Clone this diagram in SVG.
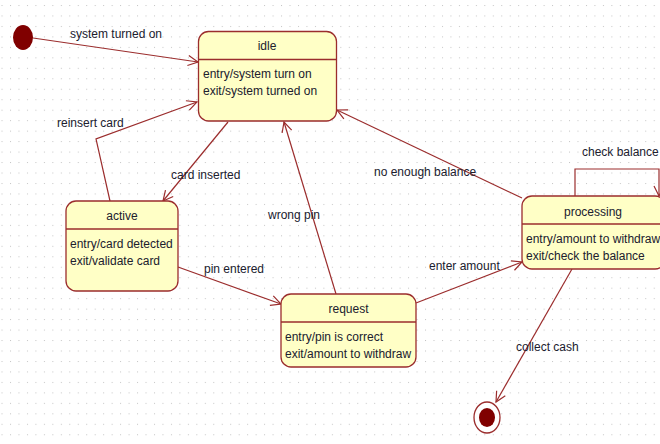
<svg xmlns="http://www.w3.org/2000/svg" width="660" height="444" viewBox="0 0 660 444">
<style>
.box{fill:#ffffc6;stroke:#9b2d2d;stroke-width:1.3}
.div{stroke:#9b2d2d;stroke-width:1.3}
.t{font-family:"Liberation Sans",Arial,sans-serif;font-size:12px;fill:#20202e}
.c{text-anchor:middle}
.e{fill:none;stroke:#9b2d2d;stroke-width:1.2}
</style>
<defs>
<pattern id="grid" patternUnits="userSpaceOnUse" x="10" y="5" width="8.47" height="10.47">
<rect x="0" y="0" width="1" height="1" fill="#c4c4c4"/>
</pattern>
<marker id="arr" markerUnits="userSpaceOnUse" markerWidth="12" markerHeight="12" refX="10" refY="5" orient="auto" overflow="visible">
<path d="M0,0 L10,5 L0,10" fill="none" stroke="#9b2d2d" stroke-width="1.2"/>
</marker>
</defs>
<rect width="660" height="444" fill="#ffffff"/>
<rect width="660" height="444" fill="url(#grid)"/>

<g id="connectors">
<path class="e" d="M33,38 L198,62" marker-end="url(#arr)"/>
<path class="e" d="M110,201 L96,139 L197,102" marker-end="url(#arr)"/>
<path class="e" d="M228,122 L163,201" marker-end="url(#arr)"/>
<path class="e" d="M178,267 L281,304" marker-end="url(#arr)"/>
<path class="e" d="M336,294 L284,122" marker-end="url(#arr)"/>
<path class="e" d="M416,303 L522,262" marker-end="url(#arr)"/>
<path class="e" d="M522,198 L337,110" marker-end="url(#arr)"/>
<path class="e" d="M575,196 V169 H659 V196" marker-end="url(#arr)"/>
<path class="e" d="M572,269 L496,402" marker-end="url(#arr)"/>
<text class="t" x="70" y="38">system turned on</text>
<text class="t" x="57" y="127">reinsert card</text>
<text class="t" x="171" y="179">card inserted</text>
<text class="t" x="204" y="273">pin entered</text>
<text class="t" x="268" y="219">wrong pin</text>
<text class="t" x="374" y="176">no enough balance</text>
<text class="t" x="429" y="270">enter amount</text>
<text class="t" x="582" y="156">check balance</text>
<text class="t" x="516" y="351">collect cash</text>
</g>

<g id="initial">
<ellipse cx="23" cy="37.5" rx="10" ry="12.5" fill="#800000"/>
</g>

<g id="final">
<ellipse cx="487" cy="417.5" rx="13" ry="15.5" fill="#ffffff" stroke="#9b2d2d" stroke-width="1.3"/>
<ellipse cx="487" cy="417.5" rx="8" ry="9.5" fill="#800000"/>
</g>

<g id="idle">
<rect class="box" x="198.5" y="31.5" width="138" height="89.5" rx="10" ry="10"/>
<line class="div" x1="198.5" y1="59.5" x2="336.5" y2="59.5"/>
<text class="t c" x="267" y="49.5">idle</text>
<text class="t" x="203" y="77.5">entry/system turn on</text>
<text class="t" x="203" y="94.5">exit/system turned on</text>
</g>

<g id="active">
<rect class="box" x="66" y="201" width="112" height="90" rx="10" ry="10"/>
<line class="div" x1="66" y1="229" x2="178" y2="229"/>
<text class="t c" x="122" y="219.5">active</text>
<text class="t" x="70" y="247.5">entry/card detected</text>
<text class="t" x="70" y="264.5">exit/validate card</text>
</g>

<g id="request">
<rect class="box" x="281" y="294" width="135" height="73" rx="10" ry="10"/>
<line class="div" x1="281" y1="322" x2="416" y2="322"/>
<text class="t c" x="348.5" y="312.5">request</text>
<text class="t" x="285" y="340.5">entry/pin is correct</text>
<text class="t" x="285" y="357.5">exit/amount to withdraw</text>
</g>

<g id="processing">
<rect class="box" x="522" y="196" width="143" height="73" rx="10" ry="10"/>
<line class="div" x1="522" y1="224" x2="665" y2="224"/>
<text class="t c" x="593" y="215.5">processing</text>
<text class="t" x="526" y="242.5">entry/amount to withdraw</text>
<text class="t" x="526" y="259.5">exit/check the balance</text>
</g>
</svg>
